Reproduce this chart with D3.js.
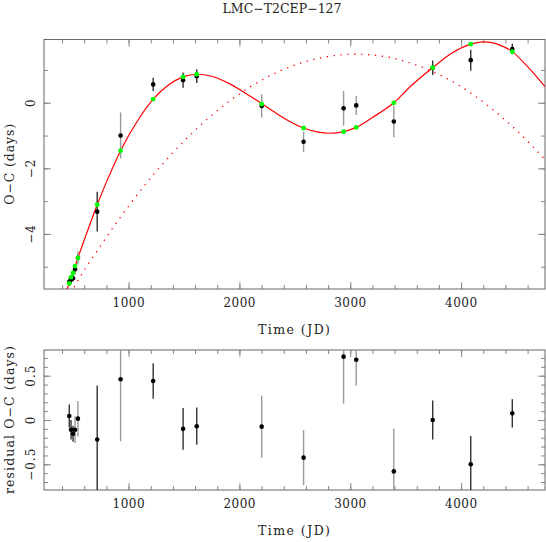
<!DOCTYPE html>
<html>
<head>
<meta charset="utf-8">
<script src="https://cdn.jsdelivr.net/npm/d3@7"></script>
<style>
  body { margin: 0; background: #fff; }
  text { font-family: "DejaVu Serif", serif; fill: #222; }
</style>
</head>
<body>
<script>
// observed timings
var jd       = [465, 481, 499, 517, 543, 717, 928, 1222, 1492, 1615, 2201, 2579, 2940, 3054, 3393, 3744, 4087, 4462];
var ocObs    = [-5.46, -5.40, -5.35, -5.08, -4.73, -3.32, -1.00, 0.56, 0.69, 0.81, -0.10, -1.19, -0.17, -0.08, -0.57, 1.07, 1.30, 1.64];
var ocModel  = [-5.51, -5.32, -5.19, -4.98, -4.73, -3.11, -1.46, 0.11, 0.79, 0.87, -0.04, -0.77, -0.88, -0.75, 0.00, 1.07, 1.79, 1.56];
var residual = [0.045, -0.11, -0.155, -0.11, 0.015, -0.22, 0.46, 0.44, -0.10, -0.07, -0.075, -0.425, 0.715, 0.68, -0.58, 0.0, -0.50, 0.075];
var ocErr    = [0.13, 0.11, 0.09, 0.15, 0.20, 0.61, 0.70, 0.20, 0.235, 0.21, 0.35, 0.31, 0.53, 0.29, 0.48, 0.22, 0.32, 0.16];
var barTone  = ["dark", "dark", "dark", "grey", "grey", "dark", "grey", "dark", "dark", "dark", "grey", "grey", "grey", "grey", "grey", "dark", "dark", "dark"];

// full model (solid) and parabola part (dotted)
var fitJD  = [380, 441, 465, 500, 543, 620, 717, 800, 928, 1100, 1222, 1350, 1492, 1615, 1750, 1900, 2050, 2201, 2350, 2453, 2579, 2700, 2815, 2940, 3054, 3200, 3393, 3550, 3744, 3900, 4087, 4210, 4350, 4462, 4600, 4757];
var fitOC  = [-6.05, -5.71, -5.51, -5.17, -4.73, -4.00, -3.11, -2.42, -1.46, -0.45, 0.11, 0.52, 0.79, 0.87, 0.81, 0.60, 0.30, -0.02, -0.36, -0.57, -0.77, -0.89, -0.93, -0.88, -0.75, -0.45, 0.00, 0.52, 1.07, 1.48, 1.79, 1.86, 1.76, 1.56, 1.10, 0.49];
var parJD  = [450, 500, 750, 1000, 1250, 1500, 1750, 2000, 2250, 2500, 2750, 3050, 3250, 3500, 3750, 4000, 4250, 4500, 4757];
var parOC  = [-6.0, -5.68, -4.35, -3.15, -2.09, -1.17, -0.38, 0.27, 0.78, 1.15, 1.38, 1.48, 1.44, 1.26, 0.94, 0.49, -0.11, -0.84, -1.73];

var xTicks = [1000, 2000, 3000, 4000];
var topYTicks = [0, -2, -4];
var botYTicks = [0.5, 0, -0.5];

var W = 546, H = 542;
var L = 44, R = 545;
var top1 = 39.5, bot1 = 289;
var top2 = 350, bot2 = 490;

var svg = d3.select("body").append("svg")
    .attr("width", W)
    .attr("height", H);

var x = d3.scaleLinear().domain([237, 4757]).range([L, R]);
var y1 = d3.scaleLinear().domain([-5.68, 1.93]).range([bot1, top1]);
var y2 = d3.scaleLinear().domain([-0.79, 0.79]).range([bot2, top2]);

var fmt = function(v) { return (v < 0 ? "\u2212" : "") + Math.abs(v); };

svg.append("text")
    .attr("x", 282).attr("y", 13)
    .attr("text-anchor", "middle")
    .attr("textLength", 119).attr("lengthAdjust", "spacing")
    .style("font-size", "12.5px")
    .text("LMC\u2212T2CEP\u2212127");

// draws the frame, ticks on all four sides and labels
function panel(y, yt, top, bot, yMinor, yMajor, ylab, ylabLen) {
  var g = svg.append("g");
  var xMinor = d3.range(400, 4760, 200);

  function ticks(axis, tr, vals, len) {
    g.append("g").attr("transform", tr)
      .call(axis.tickValues(vals).tickSize(-len).tickFormat(""))
      .call(function(s) { s.select(".domain").remove(); s.selectAll("line").attr("stroke", "#888"); });
  }
  ticks(d3.axisBottom(x), "translate(0," + bot + ")", xMinor, 4);
  ticks(d3.axisBottom(x), "translate(0," + bot + ")", xTicks, 7);
  ticks(d3.axisTop(x), "translate(0," + top + ")", xMinor, 4);
  ticks(d3.axisTop(x), "translate(0," + top + ")", xTicks, 7);
  ticks(d3.axisLeft(y), "translate(" + L + ",0)", yMinor, 4);
  ticks(d3.axisLeft(y), "translate(" + L + ",0)", yMajor, 7);
  ticks(d3.axisRight(y), "translate(" + R + ",0)", yMinor, 4);
  ticks(d3.axisRight(y), "translate(" + R + ",0)", yMajor, 7);

  g.append("rect")
    .attr("x", L).attr("y", top)
    .attr("width", R - L).attr("height", bot - top)
    .attr("fill", "none").attr("stroke", "#666");

  g.selectAll(".xl").data(xTicks).enter().append("text")
    .attr("x", function(d) { return x(d); })
    .attr("y", bot + 18)
    .attr("text-anchor", "middle")
    .attr("textLength", 32).attr("lengthAdjust", "spacing")
    .style("font-size", "12px")
    .text(function(d) { return d; });

  g.selectAll(".yl").data(yt).enter().append("text")
    .attr("transform", function(d) { return "translate(35," + y(d) + ") rotate(-90)"; })
    .attr("text-anchor", "middle")
    .style("font-size", "12px")
    .style("letter-spacing", "1px")
    .text(fmt);

  g.append("text")
    .attr("x", 294).attr("y", bot + 45)
    .attr("text-anchor", "middle")
    .attr("textLength", 72).attr("lengthAdjust", "spacing")
    .style("font-size", "12.5px")
    .text("Time (JD)");

  g.append("text")
    .attr("transform", "translate(14," + ((top + bot) / 2) + ") rotate(-90)")
    .attr("text-anchor", "middle")
    .attr("textLength", ylabLen).attr("lengthAdjust", "spacing")
    .style("font-size", "12.5px")
    .text(ylab);
}

panel(y1, topYTicks, top1, bot1, d3.range(-5, 2, 1), [-4, -2, 0], "O\u2212C (days)", 81);
panel(y2, botYTicks, top2, bot2, d3.range(-7, 8, 1).map(function(d) { return d / 10; }), [-0.5, 0, 0.5], "residual O\u2212C (days)", 148);

svg.append("clipPath").attr("id", "c1").append("rect")
    .attr("x", L).attr("y", top1).attr("width", R - L).attr("height", bot1 - top1);
svg.append("clipPath").attr("id", "c2").append("rect")
    .attr("x", L).attr("y", top2).attr("width", R - L).attr("height", bot2 - top2);

var idx = d3.range(jd.length);
var toneColor = function(i) { return barTone[i] === "dark" ? "#333" : "#999"; };

// top panel
var p1 = svg.append("g").attr("clip-path", "url(#c1)");

var fitLine = d3.line().curve(d3.curveMonotoneX)
    .x(function(i) { return x(fitJD[i]); })
    .y(function(i) { return y1(fitOC[i]); });
p1.append("path")
    .attr("d", fitLine(d3.range(fitJD.length)))
    .attr("fill", "none").attr("stroke", "#ff0000").attr("stroke-width", 1.2);

var parLine = d3.line().curve(d3.curveMonotoneX)
    .x(function(i) { return x(parJD[i]); })
    .y(function(i) { return y1(parOC[i]); });
p1.append("path")
    .attr("d", parLine(d3.range(parJD.length)))
    .attr("fill", "none").attr("stroke", "#ff0000").attr("stroke-width", 1.3)
    .attr("stroke-dasharray", "1.3,5.6");

p1.selectAll(".eb").data(idx).enter().append("line")
    .attr("x1", function(i) { return x(jd[i]); })
    .attr("x2", function(i) { return x(jd[i]); })
    .attr("y1", function(i) { return y1(ocObs[i] - ocErr[i]); })
    .attr("y2", function(i) { return y1(ocObs[i] + ocErr[i]); })
    .attr("stroke", toneColor).attr("stroke-width", 1.4);

p1.selectAll(".ob").data(idx).enter().append("circle")
    .attr("cx", function(i) { return x(jd[i]); })
    .attr("cy", function(i) { return y1(ocObs[i]); })
    .attr("r", 2.3).attr("fill", "#000");

p1.selectAll(".md").data(idx).enter().append("circle")
    .attr("cx", function(i) { return x(jd[i]); })
    .attr("cy", function(i) { return y1(ocModel[i]); })
    .attr("r", 2.4).attr("fill", "#00ff00");

// bottom panel
var p2 = svg.append("g").attr("clip-path", "url(#c2)");

p2.selectAll(".eb").data(idx).enter().append("line")
    .attr("x1", function(i) { return x(jd[i]); })
    .attr("x2", function(i) { return x(jd[i]); })
    .attr("y1", function(i) { return y2(residual[i] - ocErr[i]); })
    .attr("y2", function(i) { return y2(residual[i] + ocErr[i]); })
    .attr("stroke", toneColor).attr("stroke-width", 1.4);

p2.selectAll(".rs").data(idx).enter().append("circle")
    .attr("cx", function(i) { return x(jd[i]); })
    .attr("cy", function(i) { return y2(residual[i]); })
    .attr("r", 2.3).attr("fill", "#000");
</script>
</body>
</html>
